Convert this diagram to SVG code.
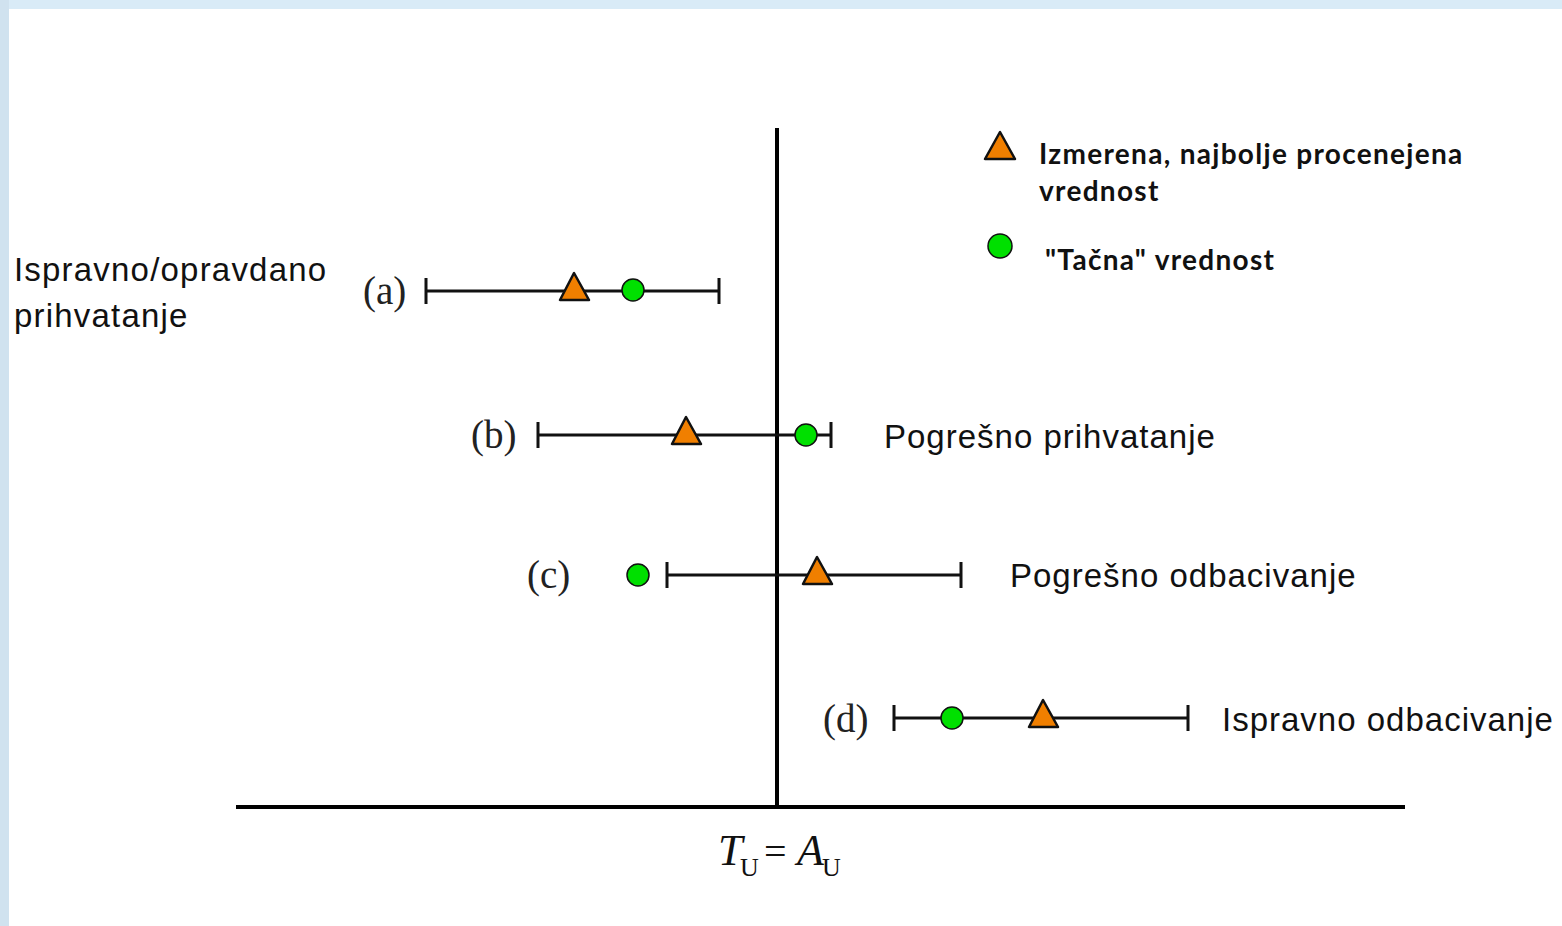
<svg xmlns="http://www.w3.org/2000/svg" width="1562" height="926" viewBox="0 0 1562 926">
<style>
.bar{stroke:#111;stroke-width:3;fill:none}
.axis{stroke:#000;stroke-width:4;fill:none}
.tri{fill:#f07f00;stroke:#111;stroke-width:2.5;stroke-linejoin:round}
.dot{fill:#00e000;stroke:#111;stroke-width:1.5}
.lbl{font-family:"Liberation Serif","Times New Roman",serif;font-size:39px;fill:#222}
.txt{font-family:"Liberation Sans",Arial,sans-serif;font-size:33px;letter-spacing:1px;fill:#111}
.leg{font-family:Lato,"Open Sans",sans-serif;font-weight:bold;font-size:28px;letter-spacing:1.3px;fill:#111}
.math{font-family:"Liberation Serif","Times New Roman",serif;fill:#111}
</style>
<rect x="0" y="0" width="1562" height="926" fill="#ffffff"/>
<rect x="0" y="0" width="1562" height="9" fill="#d9ebf7"/>
<rect x="0" y="0" width="9" height="926" fill="#d0e2ef"/>
<g id="axes">
<line class="axis" x1="777" y1="128" x2="777" y2="809"/>
<line class="axis" x1="236" y1="807" x2="1405" y2="807" stroke-width="5"/>
</g>
<g id="connectors">
<path class="bar" d="M426 291H719M426 278V304M719 278V304"/>
<path class="bar" d="M538 435H831M538 422V448M831 422V448"/>
<path class="bar" d="M667 575H961M667 562V588M961 562V588"/>
<path class="bar" d="M894 718H1188M894 705V731M1188 705V731"/>
</g>
<g id="row-a">
<text class="lbl" x="363" y="304">(a)</text>
<polygon class="tri" points="574,273 560,300 589,300"/>
<circle class="dot" cx="633" cy="290" r="11"/>
<text class="txt" x="14" y="281" style="letter-spacing:1.2px">Ispravno/opravdano</text>
<text class="txt" x="14" y="327" style="letter-spacing:1.2px">prihvatanje</text>
</g>
<g id="row-b">
<text class="lbl" x="471" y="448">(b)</text>
<polygon class="tri" points="686,417 672,444 701,444"/>
<circle class="dot" cx="806" cy="435" r="11"/>
<text class="txt" x="884" y="448">Pogrešno prihvatanje</text>
</g>
<g id="row-c">
<text class="lbl" x="527" y="588">(c)</text>
<circle class="dot" cx="638" cy="575" r="11"/>
<polygon class="tri" points="817,557 803,584 832,584"/>
<text class="txt" x="1010" y="587">Pogrešno odbacivanje</text>
</g>
<g id="row-d">
<text class="lbl" x="823" y="732">(d)</text>
<circle class="dot" cx="952" cy="718" r="11"/>
<polygon class="tri" points="1043,700 1029,727 1058,727"/>
<text class="txt" x="1222" y="731">Ispravno odbacivanje</text>
</g>
<g id="legend">
<polygon class="tri" points="1000,132 985,159 1015,159"/>
<text class="leg" x="1039" y="164">Izmerena, najbolje procenejena</text>
<text class="leg" x="1039" y="201">vrednost</text>
<circle class="dot" cx="1000" cy="246" r="12"/>
<text class="leg" x="1045" y="270">"Tačna" vrednost</text>
</g>
<g id="axis-label">
<text class="math" x="718" y="865" font-size="44" font-style="italic">T</text>
<text class="math" x="740" y="876" font-size="26">U</text>
<text class="math" x="764" y="865" font-size="40">=</text>
<text class="math" x="797" y="865" font-size="44" font-style="italic">A</text>
<text class="math" x="822" y="876" font-size="26">U</text>
</g>
</svg>
